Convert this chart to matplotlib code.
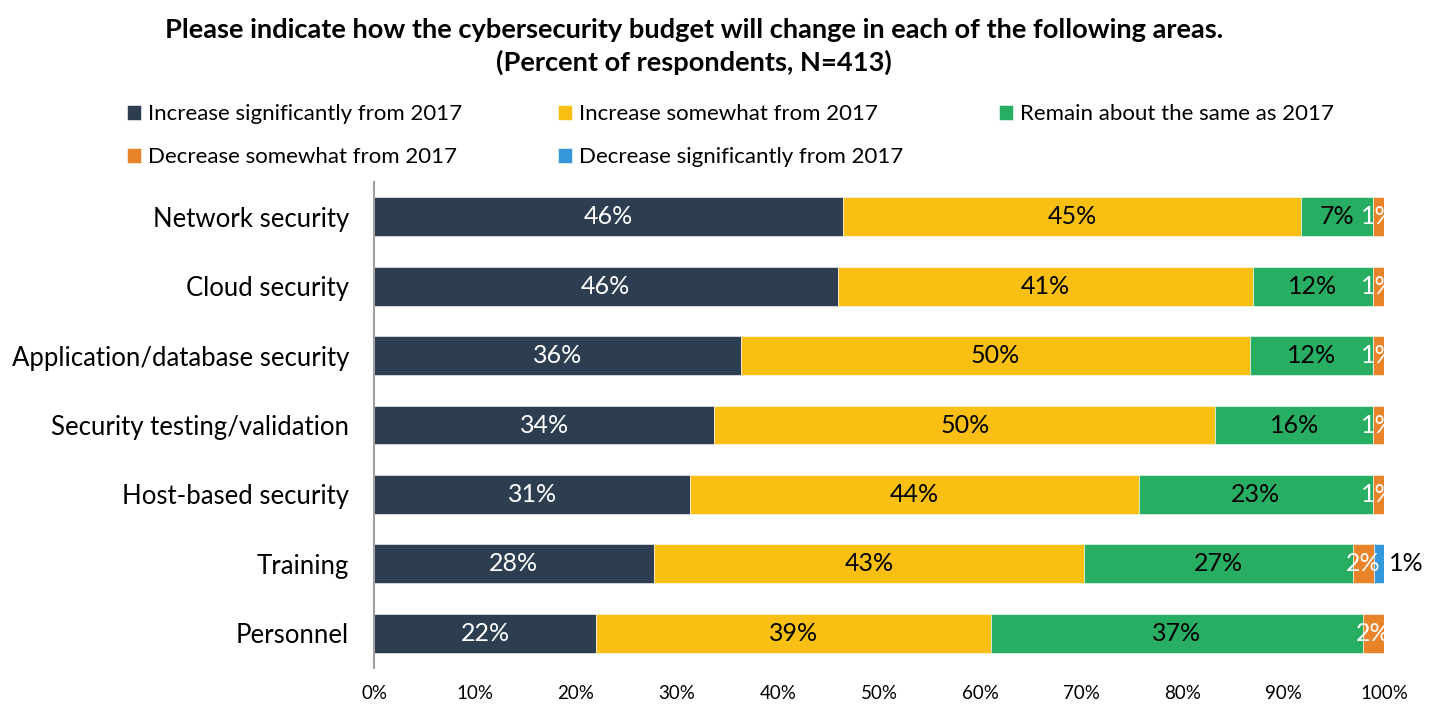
import numpy as np
import matplotlib.pyplot as plt

plt.rcParams['font.family'] = ['Lato', 'DejaVu Sans']

areas = ['Network security', 'Cloud security', 'Application/database security',
         'Security testing/validation', 'Host-based security', 'Training', 'Personnel']
series = ['Increase significantly from 2017', 'Increase somewhat from 2017',
          'Remain about the same as 2017', 'Decrease somewhat from 2017',
          'Decrease significantly from 2017']

inc_sig = [46.4, 45.9, 36.3, 33.7, 31.3, 27.7, 22.0]
inc_some = [45.4, 41.1, 50.4, 49.6, 44.4, 42.6, 39.1]
same = [7.1, 11.9, 12.2, 15.6, 23.2, 26.6, 36.8]
dec_some = [1.1, 1.1, 1.1, 1.1, 1.1, 2.1, 2.1]
dec_sig = [0, 0, 0, 0, 0, 1.0, 0]

colors = ['#2C3E50', '#F9C013', '#28AE62', '#E8832A', '#3498DB']
text_colors = ['white', 'black', 'black', 'white', 'black']

fig = plt.figure(figsize=(14.38, 7.04), dpi=100)
ax = fig.add_axes([0.2601, 0.0511, 0.7024, 0.6904])

y = np.arange(len(areas))
left = np.zeros(len(areas))
handles = []
for vals, col, tcol, name in zip([inc_sig, inc_some, same, dec_some, dec_sig],
                                  colors, text_colors, series):
    vals = np.array(vals)
    bars = ax.barh(y, vals, left=left, height=0.56, color=col, label=name,
                   edgecolor='white', linewidth=0.4)
    handles.append(bars)
    for yi, l, v in zip(y, left, vals):
        if v <= 0:
            continue
        if name.startswith('Decrease significantly'):
            # too thin for a label inside, put it past the end of the bar
            ax.text(l + v + 0.5, yi, f'{round(v)}%', va='center', ha='left',
                    fontsize=18, color='black', clip_on=False)
        else:
            t = ax.text(l + v / 2, yi, f'{round(v)}%', va='center', ha='center',
                        fontsize=18, color=tcol)
            if v < 3:
                # small slices: white label, cut at the plot edge
                t.set_color('white')
                t.set_clip_on(True)
    left += vals

ax.set_xlim(0, 100)
ax.set_ylim(len(areas) - 0.5, -0.5)
ax.set_yticks(y)
ax.set_yticklabels(areas, fontsize=18.5)
ax.set_xticks(np.arange(0, 101, 10))
ax.set_xticklabels([f'{v}%' for v in range(0, 101, 10)], fontsize=13.5)
ax.tick_params(axis='y', length=0, pad=18)
ax.tick_params(axis='x', length=0, pad=12)
for s in ['top', 'right', 'bottom']:
    ax.spines[s].set_visible(False)
ax.spines['left'].set_color('#A0A0A0')
ax.spines['left'].set_linewidth(1.5)

fig.text(0.4826, 0.957, 'Please indicate how the cybersecurity budget will change in each of the following areas.',
         ha='center', va='center', fontsize=19.6, fontweight='bold')
fig.text(0.4826, 0.912, '(Percent of respondents, N=413)',
         ha='center', va='center', fontsize=19.6, fontweight='bold')

order = [0, 3, 1, 4, 2]
fig.legend([handles[i] for i in order], [series[i] for i in order],
           loc='upper left', bbox_to_anchor=(0.082, 0.865), ncol=3, frameon=False,
           fontsize=16, handlelength=0.65, handleheight=0.65, handletextpad=0.3,
           columnspacing=4.3, labelspacing=1.05, borderaxespad=0)

fig.savefig('out.png', dpi=100)
